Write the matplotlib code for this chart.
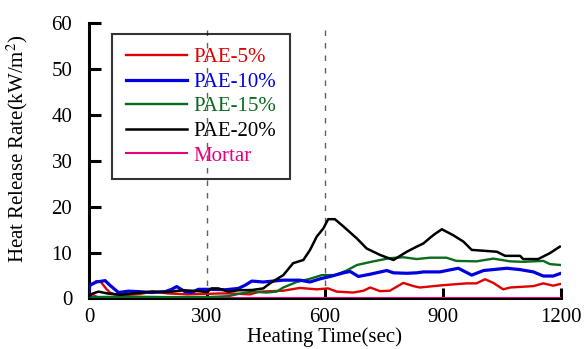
import matplotlib
matplotlib.use('Agg')
import matplotlib.pyplot as plt

# series (time in sec, HRR in kW/m2)
t_red = [0, 8, 19, 30, 45, 53, 66, 100, 130, 160, 202, 250, 300, 330, 360, 409, 434, 494, 536, 579,
         608, 630, 672, 698, 715, 740, 765, 799, 825, 841, 900, 960, 985, 1007, 1028, 1053, 1071,
         1130, 1155, 1180, 1200]
v_red = [2.5, 3.2, 3.8, 3.6, 2.0, 1.3, 0.9, 0.8, 1.0, 1.5, 1.1, 0.9, 1.0, 1.1, 1.1, 0.9, 1.5, 1.7, 2.3, 2.0,
         2.2, 1.5, 1.3, 1.7, 2.4, 1.6, 1.7, 3.4, 2.7, 2.4, 2.9, 3.3, 3.3, 4.2, 3.4, 2.0, 2.4,
         2.7, 3.3, 2.8, 3.2]

t_blue = [0, 2, 19, 41, 53, 75, 100, 126, 160, 194, 210, 223, 244, 261, 278, 295, 312, 346, 380, 397,
          414, 443, 494, 536, 562, 588, 613, 647, 664, 685, 715, 757, 774, 808, 833, 850, 892, 939,
          973, 1003, 1062, 1096, 1130, 1155, 1180, 1200]
v_blue = [1.5, 2.9, 3.6, 3.9, 2.9, 1.3, 1.6, 1.5, 1.3, 1.5, 2.0, 2.6, 1.5, 1.3, 2.0, 2.0, 2.0, 1.9, 2.2, 2.9,
          3.8, 3.6, 4.0, 4.0, 3.6, 4.3, 4.8, 5.6, 5.9, 4.8, 5.3, 6.1, 5.6, 5.5, 5.6, 5.8, 5.8, 6.6,
          5.1, 6.1, 6.6, 6.3, 5.8, 4.9, 4.9, 5.5]

t_green = [0, 100, 200, 300, 354, 380, 414, 451, 477, 494, 528, 562, 592, 626, 655, 681, 723, 765,
           799, 833, 867, 909, 934, 985, 1028, 1071, 1104, 1155, 1172, 1200]
v_green = [0.3, 0.4, 0.3, 0.3, 0.5, 1.0, 1.5, 1.3, 1.5, 2.4, 3.6, 4.3, 5.1, 5.1, 6.1, 7.3, 8.1, 8.8,
           9.0, 8.6, 8.9, 8.9, 8.2, 8.1, 8.7, 8.1, 8.0, 8.2, 7.5, 7.3]

t_black = [0, 10, 24, 47, 80, 120, 160, 200, 240, 280, 300, 312, 329, 354, 380, 414, 443, 460, 494,
           519, 545, 562, 579, 596, 608, 625, 647, 681, 706, 740, 774, 808, 833, 850, 875, 897, 926,
           952, 973, 1037, 1058, 1096, 1104, 1142, 1172, 1197]
v_black = [0.5, 1.1, 1.5, 1.1, 0.8, 1.2, 1.5, 1.4, 1.8, 1.6, 1.4, 2.2, 2.2, 1.5, 1.8, 1.85, 2.2, 3.3, 5.1,
           7.7, 8.4, 10.6, 13.5, 15.3, 17.3, 17.3, 15.7, 13.1, 10.9, 9.5, 8.4, 10.2, 11.3, 12.0, 13.8, 15.1, 13.8,
           12.4, 10.6, 10.2, 9.3, 9.3, 8.6, 8.6, 9.9, 11.3]

t_mortar = [0, 8, 15, 25, 60, 300, 600, 900, 1200]
v_mortar = [0.4, 1.0, 0.6, 0.2, 0.1, 0.1, 0.1, 0.1, 0.1]

x_ticks = [0, 300, 600, 900, 1200]
y_ticks = [0, 10, 20, 30, 40, 50, 60]
marker_times = [300, 600]

plt.rcParams['font.family'] = ['Liberation Serif', 'DejaVu Serif']
plt.rcParams['mathtext.fontset'] = 'stix'

fig = plt.figure(figsize=(5.84, 3.49), dpi=100)
ax = fig.add_axes([0.1524, 0.1447, 0.8082, 0.7883])

for xt in marker_times:
    ax.plot([xt, xt], [0, 60], color='#606060', lw=1.0, ls=(0, (4, 5)), zorder=1)

series = [
    (t_mortar, v_mortar, '#e8007f', 1.5, 'Mortar'),
    (t_red, v_red, '#e00000', 1.7, 'PAE-5%'),
    (t_green, v_green, '#0a6b1e', 1.7, 'PAE-15%'),
    (t_blue, v_blue, '#0000e0', 2.3, 'PAE-10%'),
    (t_black, v_black, 'black', 1.8, 'PAE-20%'),
]
handles = {}
for t, v, c, lw, name in series:
    ln, = ax.plot(t, v, color=c, lw=lw, zorder=3)
    handles[name] = (ln, c)

order = ['PAE-5%', 'PAE-10%', 'PAE-15%', 'PAE-20%', 'Mortar']
leg = ax.legend([handles[n][0] for n in order], order, loc='upper left',
                bbox_to_anchor=(0.0487, 0.961), borderaxespad=0, fontsize=15,
                handlelength=2.95, handletextpad=0.3, borderpad=0.65, labelspacing=0.24,
                frameon=True, fancybox=False, edgecolor='black', facecolor='none')
leg.get_frame().set_linewidth(1.5)
for txt, n in zip(leg.get_texts(), order):
    txt.set_color(handles[n][1])

ax.set_xlim(0, 1200)
ax.set_ylim(0, 60)
ax.set_xticks(x_ticks)
ax.set_yticks(y_ticks)
ax.spines['top'].set_visible(False)
ax.spines['right'].set_visible(False)
ax.spines['left'].set_linewidth(2.2)
ax.spines['bottom'].set_linewidth(2.2)
ax.tick_params(axis='y', direction='in', length=8.5, width=2.2, labelsize=15, pad=12)
ax.tick_params(axis='x', direction='in', length=7.5, width=2.2, labelsize=15, pad=7)

ax.set_xlabel('Heating Time(sec)', fontsize=15, labelpad=0)
ax.set_ylabel('Heat Release Rate(kW/m$^2$)', fontsize=15)
ax.yaxis.set_label_coords(-0.125, 0.545)

fig.savefig('out.png', dpi=100)
